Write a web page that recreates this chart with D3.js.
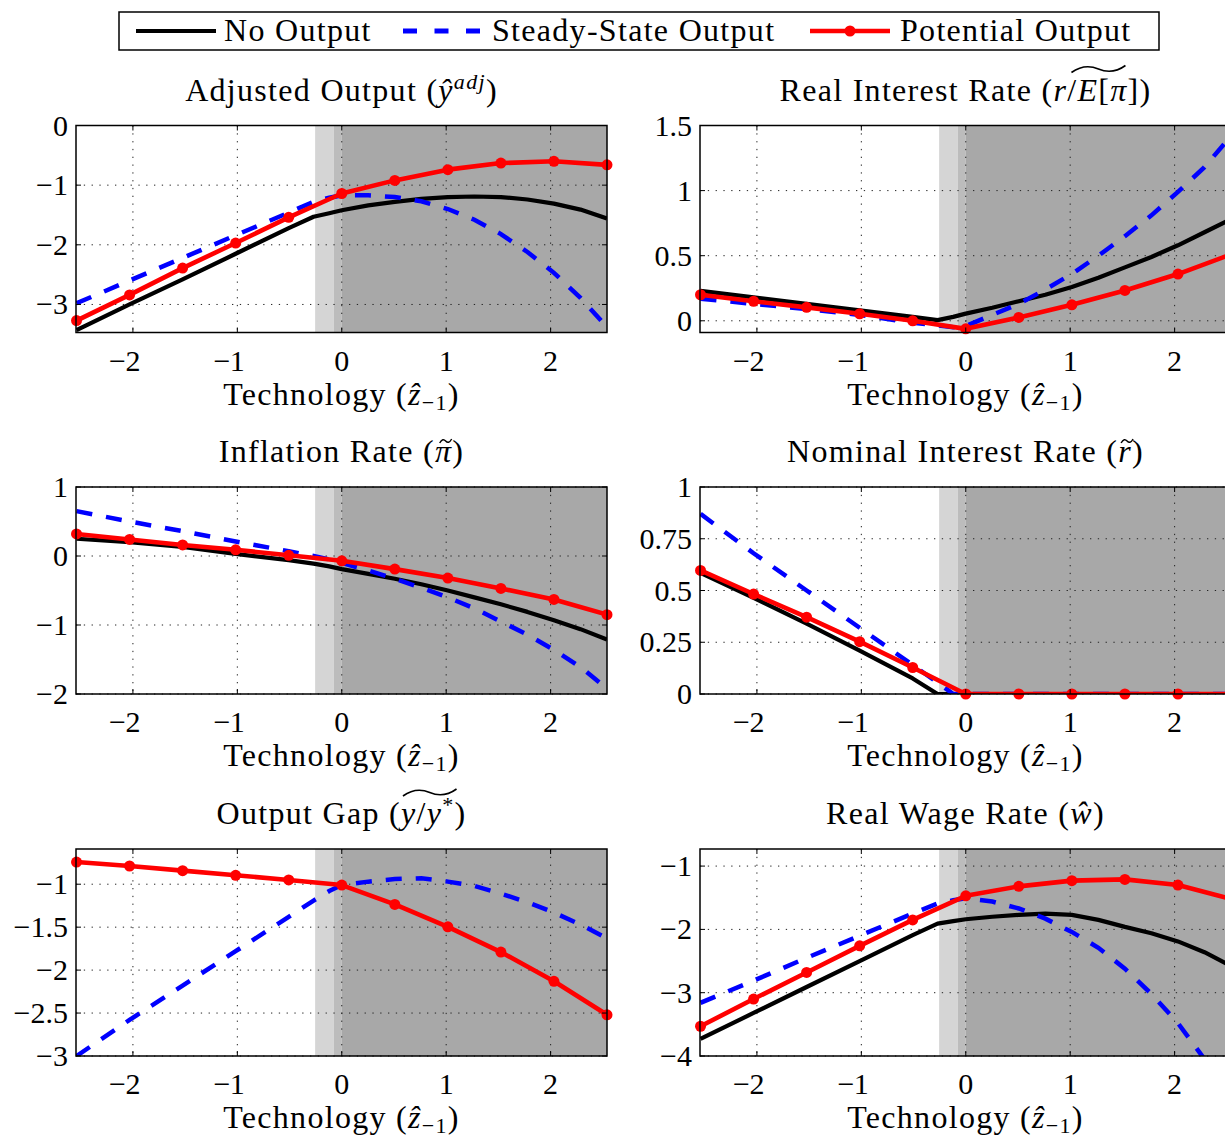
<!DOCTYPE html>
<html>
<head>
<meta charset="utf-8">
<script src="https://cdn.jsdelivr.net/npm/d3@7"></script>
<style>
body { margin: 0; background: #fff; }
</style>
</head>
<body>
<svg id="chart" width="1225" height="1137" font-family="'Liberation Serif', 'DejaVu Serif', serif" font-size="30"></svg>
<script>
// technology grid used by the No Output / Steady-State curves
var zLine = [-2.54, -2.032, -1.524, -1.016, -0.508, -0.27, -0.12, 0, 0.254, 0.508, 0.762, 1.016, 1.27, 1.524, 1.778, 2.032, 2.286, 2.54];
// coarse grid of the Potential Output series (one marker per point)
var zMark = [-2.54, -2.032, -1.524, -1.016, -0.508, 0, 0.508, 1.016, 1.524, 2.032, 2.54];
var xTicks = [-2, -1, 0, 1, 2];
var bandEdges = [-0.255, -0.076, 0];
var legendLabels = ["No Output", "Steady-State Output", "Potential Output"];

var adjNo     = [-3.43, -3.00, -2.58, -2.15, -1.72, -1.53, -1.47, -1.42, -1.34, -1.28, -1.23, -1.20, -1.19, -1.20, -1.24, -1.31, -1.41, -1.56];
var adjSteady = [-2.98, -2.60, -2.22, -1.84, -1.46, -1.28, -1.21, -1.17, -1.17, -1.20, -1.27, -1.40, -1.58, -1.82, -2.12, -2.47, -2.89, -3.38];
var adjPot    = [-3.27, -2.84, -2.39, -1.97, -1.54, -1.14, -0.92, -0.74, -0.63, -0.60, -0.66];
var adjTicks  = [0, -1, -2, -3];

var rrNo     = [0.23, 0.18, 0.13, 0.08, 0.03, 0.005, 0.03, 0.055, 0.10, 0.15, 0.20, 0.26, 0.33, 0.41, 0.49, 0.58, 0.68, 0.78];
var rrSteady = [0.17, 0.13, 0.09, 0.045, -0.015, -0.035, -0.05, -0.04, 0.045, 0.13, 0.24, 0.36, 0.50, 0.65, 0.81, 0.99, 1.18, 1.42];
var rrPot    = [0.20, 0.15, 0.103, 0.054, 0.0, -0.062, 0.026, 0.123, 0.233, 0.359, 0.51];
var rrTicks  = [0, 0.5, 1, 1.5];

var infNo     = [0.25, 0.20, 0.13, 0.03, -0.06, -0.11, -0.15, -0.19, -0.26, -0.33, -0.41, -0.50, -0.60, -0.70, -0.81, -0.93, -1.06, -1.21];
var infSteady = [0.65, 0.50, 0.36, 0.21, 0.07, 0.0, -0.05, -0.10, -0.21, -0.33, -0.46, -0.60, -0.76, -0.95, -1.14, -1.36, -1.61, -1.92];
var infPot    = [0.32, 0.24, 0.16, 0.09, 0.01, -0.07, -0.19, -0.32, -0.47, -0.63, -0.85];
var infTicks  = [1, 0, -1, -2];

var nomNo     = [0.585, 0.465, 0.34, 0.21, 0.075, 0, 0, 0, 0, 0, 0, 0, 0, 0, 0, 0, 0, 0];
var nomSteady = [0.87, 0.68, 0.50, 0.32, 0.14, 0.055, 0, 0, 0, 0, 0, 0, 0, 0, 0, 0, 0, 0];
var nomPot    = [0.597, 0.483, 0.371, 0.253, 0.128, 0, 0, 0, 0, 0, 0];
var nomTicks  = [0, 0.25, 0.5, 0.75, 1];

var gapNo     = [];
var gapSteady = [-3.00, -2.58, -2.18, -1.78, -1.38, -1.19, -1.08, -1.01, -0.97, -0.94, -0.93, -0.97, -1.02, -1.11, -1.21, -1.33, -1.47, -1.63];
var gapPot    = [-0.742, -0.788, -0.842, -0.896, -0.95, -1.01, -1.235, -1.496, -1.79, -2.13, -2.52];
var gapTicks  = [-1, -1.5, -2, -2.5, -3];

var wNo     = [-3.73, -3.32, -2.91, -2.50, -2.09, -1.91, -1.87, -1.84, -1.80, -1.77, -1.75, -1.77, -1.85, -1.96, -2.06, -2.19, -2.36, -2.58];
var wSteady = [-3.16, -2.81, -2.45, -2.10, -1.75, -1.59, -1.54, -1.51, -1.56, -1.67, -1.83, -2.04, -2.29, -2.62, -3.02, -3.48, -4.05, -4.70];
var wPot    = [-3.53, -3.10, -2.68, -2.26, -1.85, -1.47, -1.32, -1.23, -1.21, -1.30, -1.52];
var wTicks  = [-1, -2, -3, -4];

// title pieces: [text, flags]  i = italic, sup/sub, w = wide tilde group, t = small tilde
var titles = [
  [["Adjusted Output (", ""], ["\u0177", "i"], ["adj", "i sup"], [")", ""]],
  [["Real Interest Rate (", ""], ["r", "i w"], ["/", "w"], ["E", "i w"], ["[", "w"], ["\u03c0", "i w"], ["]", "w"], [")", ""]],
  [["Inflation Rate (", ""], ["\u03c0", "i t"], [")", ""]],
  [["Nominal Interest Rate (", ""], ["r", "i t"], [")", ""]],
  [["Output Gap (", ""], ["y", "i w"], ["/", "w"], ["y", "i w"], ["*", "w sup"], [")", ""]],
  [["Real Wage Rate (", ""], ["\u0175", "i"], [")", ""]]
];
var xLabel = [["Technology (", ""], ["\u1e91", "i"], ["\u22121", "sub"], [")", ""]];

var svg = d3.select("#chart");
var panelW = 531, panelH = 207;
var colX = [76, 700];
var rowY = [125.5, 487, 849];
var xDomain = [-2.545, 2.54];
var labelSize = 32;

var panels = [
  {yDomain: [-3.47, 0],   yTicks: adjTicks, no: adjNo, steady: adjSteady, pot: adjPot},
  {yDomain: [-0.09, 1.5], yTicks: rrTicks,  no: rrNo,  steady: rrSteady,  pot: rrPot},
  {yDomain: [-2, 1],      yTicks: infTicks, no: infNo, steady: infSteady, pot: infPot},
  {yDomain: [0, 1],       yTicks: nomTicks, no: nomNo, steady: nomSteady, pot: nomPot},
  {yDomain: [-3, -0.59],  yTicks: gapTicks, no: gapNo, steady: gapSteady, pot: gapPot},
  {yDomain: [-4, -0.73],  yTicks: wTicks,   no: wNo,   steady: wSteady,   pot: wPot}
];

function fmtTick(v)
{
    return (v < 0 ? "\u2212" : "") + String(Math.abs(v));
}

function tildePath(x0, yb, w, h)
{
    return "M" + x0 + "," + yb +
        " C" + (x0 + w * 0.18) + "," + (yb - h) + " " + (x0 + w * 0.35) + "," + (yb - h) + " " + (x0 + w * 0.5) + "," + (yb - h / 2) +
        " S" + (x0 + w * 0.82) + "," + yb + " " + (x0 + w) + "," + (yb - h);
}

function mathText(g, cx, cy, parts)
{
    var t = g.append("text")
        .attr("x", cx)
        .attr("y", cy)
        .attr("text-anchor", "middle")
        .attr("font-size", labelSize)
        .attr("letter-spacing", 1.3);
    var level = 0, idx = 0, wide = [], small = [];
    parts.forEach(function(p) {
        var f = p[1].split(" ");
        var target = f.indexOf("sup") >= 0 ? -12 : (f.indexOf("sub") >= 0 ? 5 : 0);
        var s = t.append("tspan").text(p[0]).attr("dy", target - level);
        level = target;
        if (f.indexOf("i") >= 0) s.attr("font-style", "italic");
        if (target !== 0) s.attr("font-size", 22);
        if (f.indexOf("w") >= 0) wide.push([idx, idx + p[0].length - 1]);
        if (f.indexOf("t") >= 0) small.push([idx, idx + p[0].length - 1]);
        idx += p[0].length;
    });
    var node = t.node();
    if (wide.length) {
        var a = node.getStartPositionOfChar(wide[0][0]).x;
        var b = node.getEndPositionOfChar(wide[wide.length - 1][1]).x;
        var w = Math.min(b - a, 54);
        var c = (a + b) / 2 + 2;
        g.append("path")
            .attr("d", tildePath(c - w / 2, cy - 28, w, 7))
            .attr("fill", "none").attr("stroke", "#000").attr("stroke-width", 1.6);
    }
    small.forEach(function(r) {
        var a = node.getStartPositionOfChar(r[0]).x;
        var b = node.getEndPositionOfChar(r[1]).x;
        var c = (a + b) / 2 + 2;
        g.append("path")
            .attr("d", tildePath(c - 6, cy - 19, 12, 4))
            .attr("fill", "none").attr("stroke", "#000").attr("stroke-width", 1.4);
    });
}

panels.forEach(function(p, k) {
    var left = colX[k % 2], top = rowY[Math.floor(k / 2)];
    var g = svg.append("g").attr("transform", "translate(" + left + "," + top + ")");
    var x = d3.scaleLinear().domain(xDomain).range([0, panelW]);
    var y = d3.scaleLinear().domain(p.yDomain).range([panelH, 0]);

    var clipId = "clip" + k;
    g.append("clipPath").attr("id", clipId)
        .append("rect").attr("width", panelW).attr("height", panelH);

    // shaded regions
    g.append("rect").attr("x", x(bandEdges[0])).attr("width", x(bandEdges[1]) - x(bandEdges[0]))
        .attr("height", panelH).attr("fill", "#d5d5d5");
    g.append("rect").attr("x", x(bandEdges[1])).attr("width", x(bandEdges[2]) - x(bandEdges[1]))
        .attr("height", panelH).attr("fill", "#bcbcbc");
    g.append("rect").attr("x", x(bandEdges[2])).attr("width", panelW - x(bandEdges[2]))
        .attr("height", panelH).attr("fill", "#a8a8a8");

    // dotted grid
    var grid = g.append("g").attr("stroke", "#222").attr("stroke-width", 1).attr("stroke-dasharray", "1.3,6.5");
    xTicks.forEach(function(t) {
        grid.append("line").attr("x1", x(t)).attr("x2", x(t)).attr("y1", 0).attr("y2", panelH);
    });
    p.yTicks.forEach(function(t) {
        grid.append("line").attr("x1", 0).attr("x2", panelW).attr("y1", y(t)).attr("y2", y(t));
    });

    var lineGrid = d3.line().x(function(d, i) { return x(zLine[i]); }).y(function(d) { return y(d); });
    var lineMark = d3.line().x(function(d, i) { return x(zMark[i]); }).y(function(d) { return y(d); });
    var lines = g.append("g").attr("clip-path", "url(#" + clipId + ")").attr("fill", "none");
    if (p.no.length) {
        lines.append("path").attr("d", lineGrid(p.no))
            .attr("stroke", "#000").attr("stroke-width", 4.2).attr("stroke-linejoin", "round");
    }
    lines.append("path").attr("d", lineGrid(p.steady))
        .attr("stroke", "#0000ff").attr("stroke-width", 4.5).attr("stroke-dasharray", "16,14");
    lines.append("path").attr("d", lineMark(p.pot))
        .attr("stroke", "#ff0000").attr("stroke-width", 4.6).attr("stroke-linejoin", "round");

    g.selectAll("circle.mk")
        .data(p.pot)
        .enter().append("circle")
        .attr("class", "mk")
        .attr("cx", function(d, i) { return x(zMark[i]); })
        .attr("cy", function(d) { return y(d); })
        .attr("r", 5.5)
        .attr("fill", "#ff0000");

    // box and inner ticks
    g.append("rect").attr("width", panelW).attr("height", panelH)
        .attr("fill", "none").attr("stroke", "#000").attr("stroke-width", 1.5);
    var ticks = g.append("g").attr("stroke", "#000").attr("stroke-width", 1);
    xTicks.forEach(function(t) {
        ticks.append("line").attr("x1", x(t)).attr("x2", x(t)).attr("y1", panelH).attr("y2", panelH - 5);
        ticks.append("line").attr("x1", x(t)).attr("x2", x(t)).attr("y1", 0).attr("y2", 5);
    });
    p.yTicks.forEach(function(t) {
        ticks.append("line").attr("x1", 0).attr("x2", 5).attr("y1", y(t)).attr("y2", y(t));
        ticks.append("line").attr("x1", panelW).attr("x2", panelW - 5).attr("y1", y(t)).attr("y2", y(t));
    });

    // tick labels
    p.yTicks.forEach(function(t) {
        g.append("text").attr("x", -8).attr("y", y(t) + 10)
            .attr("text-anchor", "end").text(fmtTick(t));
    });
    xTicks.forEach(function(t) {
        g.append("text").attr("x", x(t)).attr("y", panelH + 38)
            .attr("text-anchor", "middle").text(String(Math.abs(t)));
        if (t < 0) {
            g.append("text").attr("x", x(t) - 7).attr("y", panelH + 38)
                .attr("text-anchor", "end").text("\u2212");
        }
    });

    mathText(g, panelW / 2, -25, titles[k]);
    mathText(g, panelW / 2, panelH + 72, xLabel);
});

// legend
var lg = svg.append("g");
lg.append("rect").attr("x", 119).attr("y", 12).attr("width", 1040).attr("height", 38)
    .attr("fill", "#fff").attr("stroke", "#000").attr("stroke-width", 1.5);
lg.append("line").attr("x1", 136).attr("x2", 216).attr("y1", 31).attr("y2", 31)
    .attr("stroke", "#000").attr("stroke-width", 4.2);
lg.append("line").attr("x1", 403).attr("x2", 487).attr("y1", 31).attr("y2", 31)
    .attr("stroke", "#0000ff").attr("stroke-width", 5).attr("stroke-dasharray", "14,17.5");
lg.append("line").attr("x1", 810).attr("x2", 890).attr("y1", 31).attr("y2", 31)
    .attr("stroke", "#ff0000").attr("stroke-width", 4.6);
lg.append("circle").attr("cx", 850).attr("cy", 31).attr("r", 5.5).attr("fill", "#ff0000");
[224, 492, 900].forEach(function(lx, i) {
    lg.append("text").attr("x", lx).attr("y", 41)
        .attr("font-size", labelSize)
        .attr("letter-spacing", 1.3).text(legendLabels[i]);
});
</script>
</body>
</html>
